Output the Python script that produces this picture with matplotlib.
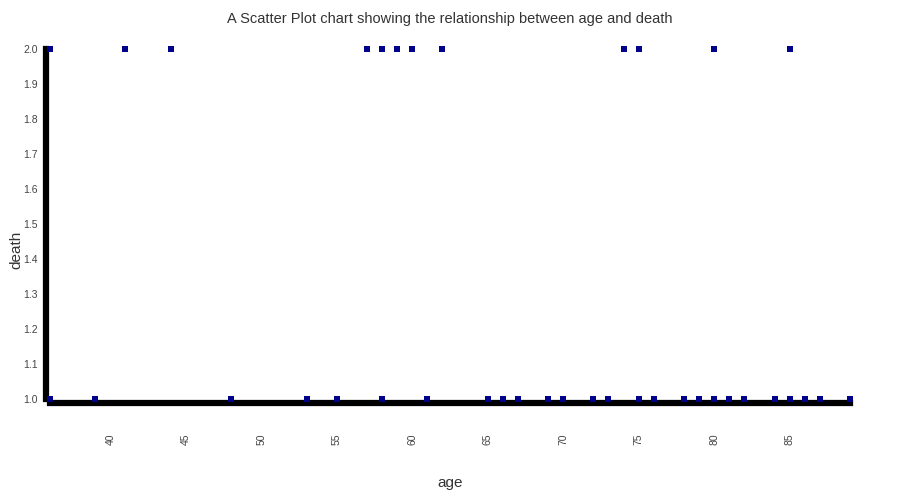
import matplotlib
matplotlib.use('Agg')
import matplotlib.pyplot as plt

plt.rcParams['font.family'] = ['Liberation Sans', 'DejaVu Sans']

title = 'A Scatter Plot chart showing the relationship between age and death'

# ages, grouped by death value
age_death_2 = [36, 41, 44, 57, 58, 59, 60, 62, 74, 75, 80, 85]
age_death_1 = [36, 39, 48, 53, 55, 58, 61, 65, 66, 67, 69, 70, 72, 73, 75, 76,
               78, 79, 80, 81, 82, 84, 85, 86, 87, 89]

ages = age_death_2 + age_death_1
deaths = [2] * len(age_death_2) + [1] * len(age_death_1)

x_ticks = [40, 45, 50, 55, 60, 65, 70, 75, 80, 85]
y_ticks = [1.0, 1.1, 1.2, 1.3, 1.4, 1.5, 1.6, 1.7, 1.8, 1.9, 2.0]


def main():
    fig = plt.figure(figsize=(9, 5), dpi=100)
    ax = fig.add_axes([50 / 900, 101 / 500, 800 / 900, 350 / 500])
    ax.scatter(ages, deaths, s=15, marker='s', color='#00008b', zorder=5,
               clip_on=False, linewidths=0)
    ax.set_xlim(min(ages), max(ages))
    ax.set_ylim(1.0, 2.0)

    for side in ['top', 'right']:
        ax.spines[side].set_visible(False)
    ax.spines['left'].set_linewidth(4.5)
    ax.spines['bottom'].set_linewidth(4.5)
    ax.spines['left'].set_position(('outward', 3))
    ax.spines['bottom'].set_position(('outward', 3))

    ax.set_xticks(x_ticks)
    ax.set_xticklabels([str(t) for t in x_ticks], rotation=90)
    ax.set_yticks(y_ticks)
    ax.set_yticklabels(['{:.1f}'.format(t) for t in y_ticks])
    ax.tick_params(axis='x', length=0, pad=22, labelsize=7.5, labelcolor='#444444')
    ax.tick_params(axis='y', length=2, pad=4, labelsize=7.5, labelcolor='#444444')

    ax.set_xlabel('age', fontsize=11, color='#333333')
    ax.xaxis.set_label_coords(0.5, -(476 - 399) / 350)
    ax.set_ylabel('death', fontsize=11, color='#333333')
    ax.yaxis.set_label_coords(-27 / 800, (399 - 250) / 350)
    fig.text(0.5, 1 - 19 / 500, title, ha='center', va='center', fontsize=10.5,
             color='#333333')

    fig.savefig('out.png', dpi=100)
    plt.close(fig)


if __name__ == '__main__':
    main()
